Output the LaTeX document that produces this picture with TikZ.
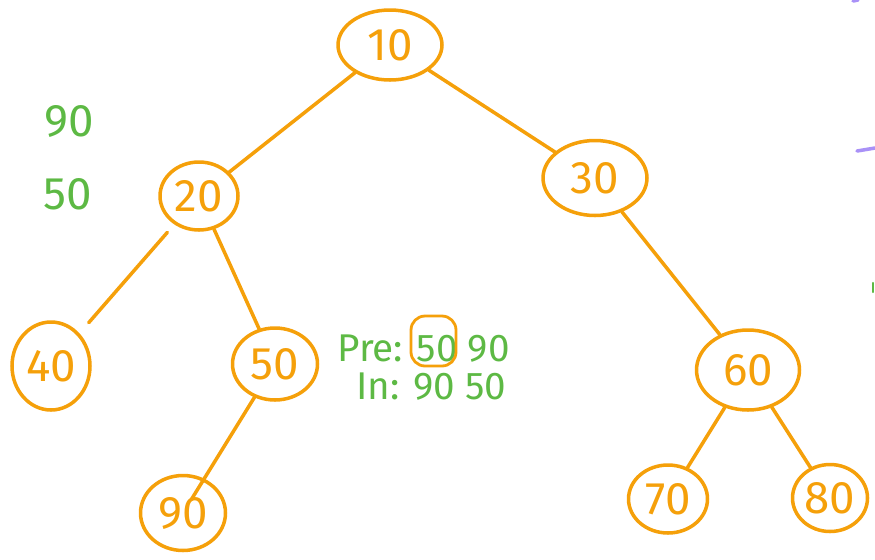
\documentclass[tikz,border=0pt]{standalone}
\usepackage{fontspec}
\setmainfont{Fira Sans}
\usetikzlibrary{positioning,shapes.geometric}
\definecolor{penorange}{HTML}{F5A00A}
\definecolor{pengreen}{HTML}{5DB944}
\definecolor{penpurple}{HTML}{A991F7}
\begin{document}
\begin{tikzpicture}[x=0.02cm,y=-0.02cm,
	tnode/.style={ellipse, draw=penorange, line width=2pt, inner sep=0pt, text=penorange, font=\fontsize{26}{30}\selectfont},
	tedge/.style={draw=penorange, line width=2pt, line cap=round},
	note/.style={text=pengreen, font=\fontsize{22}{26}\selectfont, inner sep=0pt}]
	\useasboundingbox (0,0) rectangle (875,559);
	% tree
	\node[tnode, minimum width=2.08cm, minimum height=1.40cm] (n10) at (390,45) {10};
	\node[tnode, minimum width=1.56cm, minimum height=1.36cm] (n20) at (199,196) {20};
	\node[tnode, minimum width=2.08cm, minimum height=1.50cm] (n30) at (595,178) {30};
	\node[tnode, minimum width=1.56cm, minimum height=1.76cm] (n40) at (51,366) {40};
	\node[tnode, minimum width=1.70cm, minimum height=1.44cm] (n50) at (275,364) {50};
	\node[tnode, minimum width=2.06cm, minimum height=1.60cm] (n60) at (748,370) {60};
	\node[tnode, minimum width=1.70cm, minimum height=1.50cm] (n90) at (183,513) {90};
	\node[tnode, minimum width=1.58cm, minimum height=1.36cm] (n70) at (668,499) {70};
	\node[tnode, minimum width=1.50cm, minimum height=1.34cm] (n80) at (830,498) {80};
	\draw[tedge] (n10) -- (n20);
	\draw[tedge] (n10) -- (n30);
	\draw[tedge, shorten >=8pt, shorten <=6pt] (n20) -- (n40);
	\draw[tedge] (n20) -- (n50);
	\draw[tedge] (n30) -- (n60);
	\draw[tedge, shorten >=-14pt] (n50) -- (n90);
	\draw[tedge] (n60) -- (n70);
	\draw[tedge] (n60) -- (n80);
	% notes
	\node[note, font=\fontsize{26}{30}\selectfont] (top90) at (69,121) {90};
	\node[note, font=\fontsize{26}{30}\selectfont] (top50) at (68,194) {50};
	\node[note, anchor=west] (pre) at (337,349) {Pre: 50 90};
	\node[note, anchor=west] (in) at (356,387) {In: 90 50};
	\draw[draw=penorange, line width=1.6pt, rounded corners=8pt] (411,316) rectangle (456,366);
	% marks at the right edge
	\draw[draw=penpurple, line width=2pt, line cap=round] (853,1) -- (858,0);
	\draw[draw=penpurple, line width=2pt, line cap=round] (857,151) -- (875,148);
	\draw[draw=pengreen, line width=1.4pt, line cap=round] (873,283) -- (873,292);
\end{tikzpicture}
\end{document}
